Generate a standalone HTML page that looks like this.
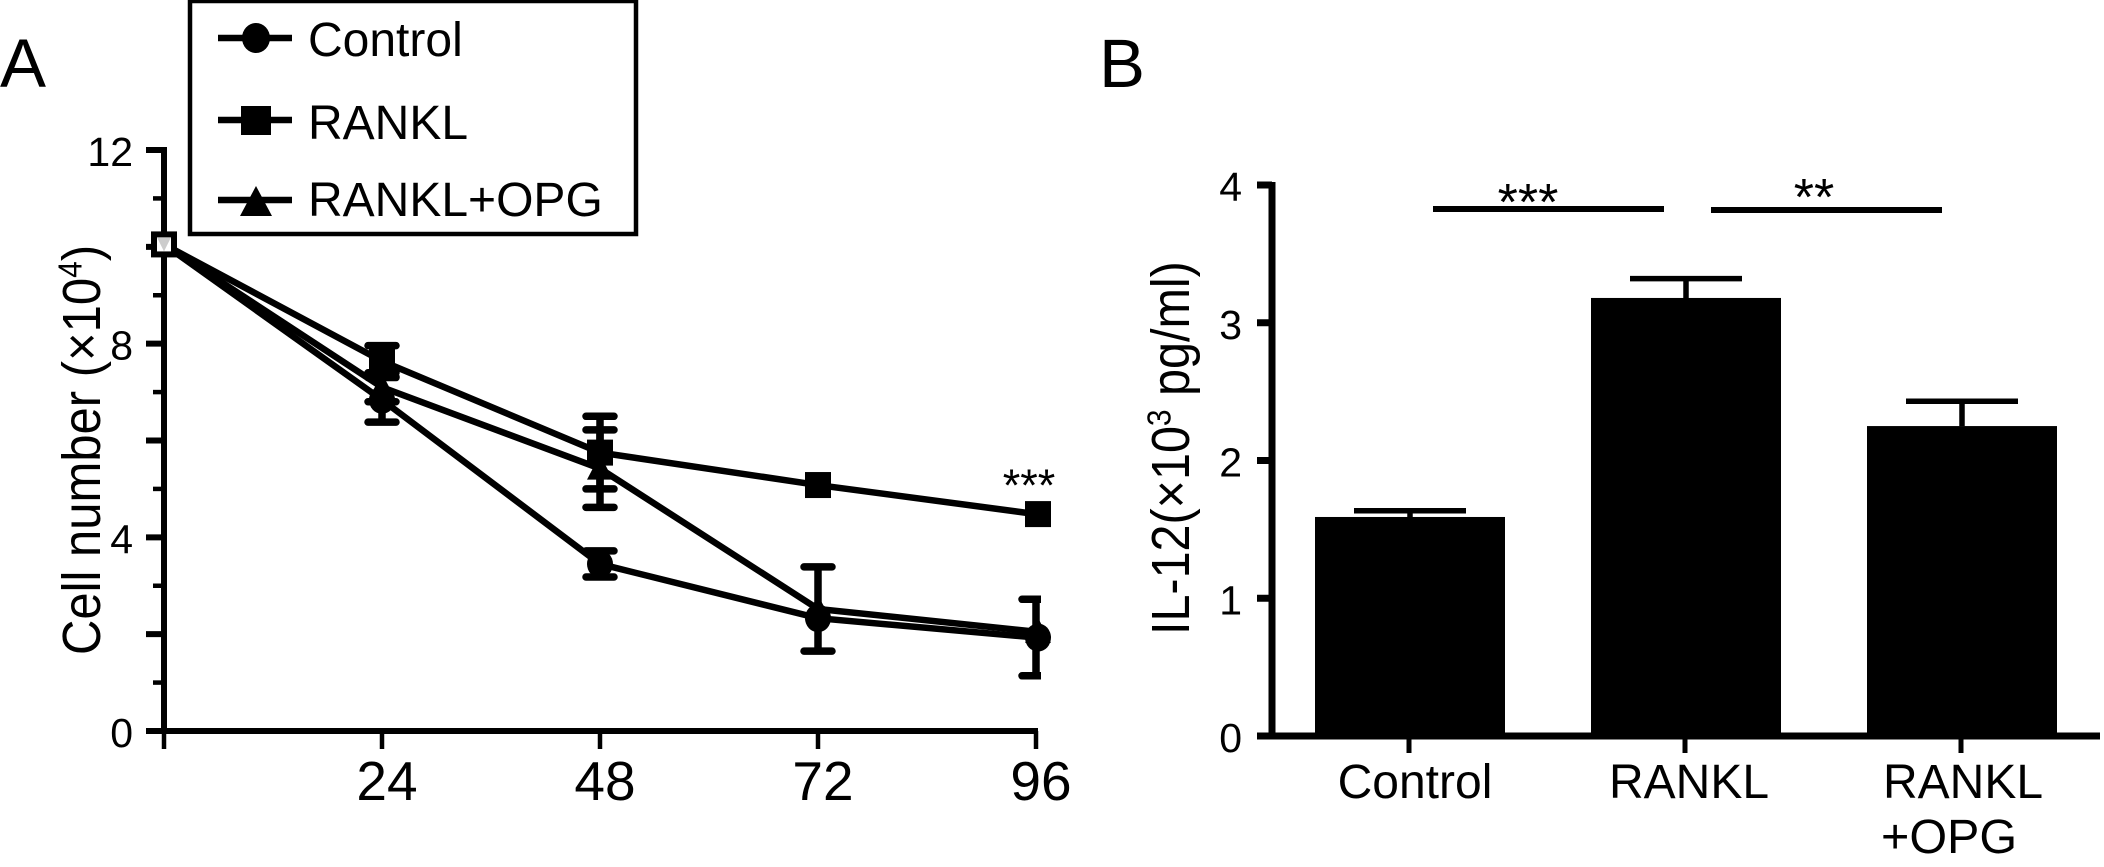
<!DOCTYPE html>
<html lang="en">
<head>
<meta charset="utf-8">
<title>Cell number and IL-12 charts</title>
<style>
html,body{margin:0;padding:0;background:#fff;width:2104px;height:867px;overflow:hidden}
svg{display:block}
text{font-family:"Liberation Sans",Arial,sans-serif;fill:#000}
</style>
</head>
<body>
<svg id="figure" xmlns="http://www.w3.org/2000/svg" width="2104" height="867" viewBox="0 0 2104 867">
  <defs>
    <clipPath id="clip-a"><rect x="100" y="100" width="941" height="700"/></clipPath>
  </defs>
  <text x="0" y="87" font-size="69">A</text>
  <text x="1099" y="87" font-size="69">B</text>

  <text transform="translate(100,655) rotate(-90) scale(1,1.1)" font-size="49">Cell number (×10<tspan dy="-17" font-size="30">4</tspan><tspan dy="17">)</tspan></text>
  <text transform="translate(1189,635) rotate(-90) scale(1,1.1)" font-size="48.5">IL-12(×10<tspan dy="-17" font-size="30">3</tspan><tspan dy="17"> pg/ml)</tspan></text>

  <g id="axes-a"></g>
  <g id="plot-a"></g>
  <text x="1029" y="501" font-size="45" text-anchor="middle">***</text>

  <g>
    <rect x="190" y="1" width="446" height="233" fill="#fff" stroke="#000" stroke-width="4.5"/>
    <g>
      <line x1="218" x2="292" y1="38" y2="38" stroke="#000" stroke-width="6.5"/>
      <ellipse cx="256" cy="38" rx="14" ry="15"/>
      <text x="308" y="56" font-size="48">Control</text>
    </g>
    <g>
      <line x1="218" x2="292" y1="120" y2="120" stroke="#000" stroke-width="6.5"/>
      <rect x="241" y="106" width="30" height="29"/>
      <text x="308" y="139" font-size="48">RANKL</text>
    </g>
    <g>
      <line x1="218" x2="292" y1="200" y2="200" stroke="#000" stroke-width="6.5"/>
      <polygon points="256,186 272,216 240,216"/>
      <text x="308" y="216" font-size="48">RANKL+OPG</text>
    </g>
  </g>

  <g id="axes-b"></g>
  <g id="plot-b"></g>

  <g>
    <line x1="1433" x2="1664" y1="209" y2="209" stroke="#000" stroke-width="6"/>
    <line x1="1711" x2="1942" y1="210" y2="210" stroke="#000" stroke-width="6"/>
    <text x="1528" y="220" font-size="52" text-anchor="middle">***</text>
    <text x="1814" y="215" font-size="52" text-anchor="middle">**</text>
  </g>
</svg>

<script>
// Panel A data
const hours = [0, 24, 48, 72, 96];
const xTickLabelsA = [24, 48, 72, 96];
const yTickLabelsA = [12, 8, 4, 0];
const yTicksA = [0, 1, 2, 3, 4, 5, 6, 7, 8, 9, 10, 11, 12];
const controlValues = [10.05, 6.84, 3.45, 2.33, 1.93];
const controlErrors = [0, 0.46, 0.27, 0, 0.79];
const ranklValues = [10.05, 7.64, 5.75, 5.08, 4.48];
const ranklErrors = [0, 0.32, 0.75, 0, 0];
const opgValues = [10.05, 7.1, 5.42, 2.52, 2.05];
const opgErrors = [0, 0.3, 0.8, 0.87, 0];

// Panel B data
const groups = ["Control", "RANKL", "RANKL+OPG"];
const il12Values = [1.59, 3.18, 2.25];
const il12Errors = [0.045, 0.14, 0.18];
const yTicksB = [0, 1, 2, 3, 4];

const NS = "http://www.w3.org/2000/svg";
function make(parent, tag, attrs, txt) {
  const e = document.createElementNS(NS, tag);
  for (const k in attrs) e.setAttribute(k, attrs[k]);
  if (txt !== undefined) e.textContent = txt;
  parent.appendChild(e);
  return e;
}

// Axis functions
const xA = h => 164 + (h / 96) * 872;
const yA = v => 731 - (v / 12) * 581;
const yB = v => 736 - (v / 4) * 551;
const xB = i => 1409 + i * 276;

// Panel A axes
const axesA = document.getElementById("axes-a");
const yAxisA = make(axesA, "line", {x1: xA(0), x2: xA(0), y1: yA(12) - 3, y2: yA(0) + 3, stroke: "#000", "stroke-width": 6});


const xAxisA = make(axesA, "line", {x1: xA(0), x2: xA(96) + 2, y1: yA(0), y2: yA(0), stroke: "#000", "stroke-width": 6});



yTicksA.forEach(v => {
  const major = v % 2 === 0;
  const t = make(axesA, "line", {x1: major ? 146 : 153, x2: xA(0), y1: yA(v), y2: yA(v), stroke: "#000", "stroke-width": major ? 6 : 4.5});
  
  
});
yTickLabelsA.forEach(v => {
  const t = make(axesA, "text", {x: 133, y: yA(v) + 16, "font-size": 41, "text-anchor": "end"}, String(v));
  
  
});
hours.forEach(h => {
  const t = make(axesA, "line", {x1: xA(h), x2: xA(h), y1: yA(0), y2: 749, stroke: "#000", "stroke-width": 4.5});
  
  
});
xTickLabelsA.forEach(h => {
  const t = make(axesA, "text", {x: xA(h) + 5, y: 800, "font-size": 55, "text-anchor": "middle"}, String(h));
  
  
});

// Panel A series
const plotA = document.getElementById("plot-a");
function drawSeries(name, values, errors, marker) {
  const g = make(plotA, "g", {});
  
  
  const line = make(g, "polyline", {
    points: hours.map((h, i) => xA(h) + "," + yA(values[i])).join(" "),
    fill: "none", stroke: "#000", "stroke-width": 6.5
  });
  
  
  hours.forEach((h, i) => {
    if (i === 0) return;
    const x = xA(h);
    if (errors[i] > 0) {
      const hi = yA(values[i] + errors[i]), lo = yA(values[i] - errors[i]);
      const s = make(g, "path", {
        d: "M" + x + " " + hi + "V" + lo + "M" + (x - 14) + " " + hi + "H" + (x + 14) + "M" + (x - 14) + " " + lo + "H" + (x + 14),
        fill: "none", stroke: "#000", "stroke-width": 7.5, "stroke-linecap": "round", "clip-path": "url(#clip-a)"
      });
      
      
    }
    const m = marker(g, x + (i === 4 ? 2 : 0), yA(values[i]));
    
    
  });
}
drawSeries("control", controlValues, controlErrors, (g, x, y) => make(g, "ellipse", {cx: x, cy: y, rx: 13, ry: 14}));
drawSeries("rankl-opg", opgValues, opgErrors, (g, x, y) => make(g, "polygon", {points: x + "," + (y - 14) + " " + (x + 13) + "," + (y + 11) + " " + (x - 13) + "," + (y + 11)}));
drawSeries("rankl", ranklValues, ranklErrors, (g, x, y) => make(g, "rect", {x: x - 13, y: y - 13, width: 26, height: 26}));

// Overlapping starting marker
const startBox = make(plotA, "rect", {x: xA(0) - 10, y: yA(10.05) - 10, width: 20, height: 20, fill: "#fff", stroke: "#000", "stroke-width": 6});


const startTri = make(plotA, "polygon", {
  points: (xA(0) - 7) + "," + (yA(10.05) - 7) + " " + (xA(0) + 7) + "," + (yA(10.05) - 7) + " " + xA(0) + "," + (yA(10.05) + 7),
  fill: "#ccc"
});



// Panel B axes
const axesB = document.getElementById("axes-b");
const yAxisB = make(axesB, "line", {x1: 1272, x2: 1272, y1: yB(4) - 3, y2: yB(0), stroke: "#000", "stroke-width": 7});


const xAxisB = make(axesB, "line", {x1: 1257, x2: 2100, y1: yB(0), y2: yB(0), stroke: "#000", "stroke-width": 7});


yTicksB.forEach(v => {
  const t = make(axesB, "line", {x1: 1257, x2: 1272, y1: yB(v), y2: yB(v), stroke: "#000", "stroke-width": 7});
  
  
  const l = make(axesB, "text", {x: 1242, y: yB(v) + 16, "font-size": 41, "text-anchor": "end"}, String(v));
  
  
});

// Panel B bars
const plotB = document.getElementById("plot-b");
const barWidth = 190;
groups.forEach((name, i) => {
  const cx = xB(i);
  const stemX = cx + 1;
  const top = yB(il12Values[i]);
  const errTop = yB(il12Values[i] + il12Errors[i]);
  const stem = make(plotB, "path", {
    d: "M" + stemX + " " + top + "V" + errTop + "M" + (stemX - 56) + " " + errTop + "H" + (stemX + 56),
    fill: "none", stroke: "#000", "stroke-width": 5.5
  });
  
  
  const bar = make(plotB, "rect", {x: stemX - barWidth / 2, y: top, width: barWidth, height: yB(0) - top, fill: "#000"});
  
  
  const t = make(axesB, "line", {x1: cx, x2: cx, y1: yB(0), y2: 753, stroke: "#000", "stroke-width": 5});
  
  
  const parts = name.split("+");
  const l = make(axesB, "text", {x: cx + 6 - 2 * i, y: 798, "font-size": 48, "text-anchor": "middle"}, parts[0]);
  
  
  if (parts[1]) {
    const l2 = make(axesB, "text", {x: cx - 80, y: 853, "font-size": 48.5}, "+" + parts[1]);
    
    
  }
});
</script>
</body>
</html>
